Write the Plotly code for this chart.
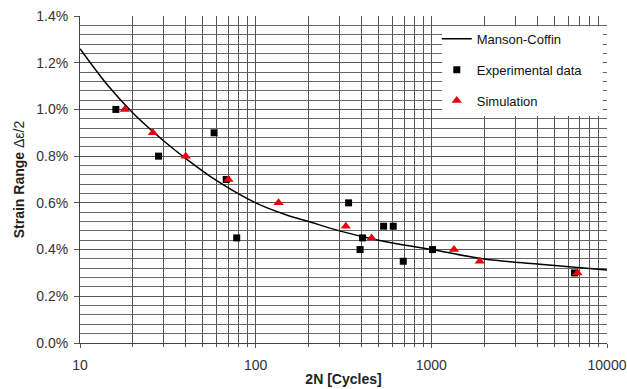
import plotly.graph_objects as go

# Manson-Coffin curve (cycles, strain %)
curve_n = [10, 14.5, 20, 30, 40, 60, 100, 150, 200, 300, 500, 1000, 2000, 4000, 10000]
curve_strain = [1.26, 1.10, 0.985, 0.865, 0.79, 0.695, 0.60, 0.548, 0.52, 0.48, 0.44, 0.40, 0.36, 0.338, 0.313]

# Experimental data
exp_n = [16, 28, 58, 68, 78, 338, 406, 393, 535, 607, 692, 1016, 6530]
exp_strain = [1.0, 0.8, 0.9, 0.7, 0.45, 0.6, 0.45, 0.4, 0.5, 0.5, 0.35, 0.4, 0.3]

# Simulation
sim_n = [18, 26, 40, 70, 135, 326, 457, 1346, 1885, 6790]
sim_strain = [1.0, 0.9, 0.8, 0.7, 0.6, 0.5, 0.45, 0.4, 0.35, 0.3]

x_ticks = [10, 100, 1000, 10000]
x_tick_labels = ["10", "100", "1000", "10000"]

minor_x = [m * d for d in (10, 100, 1000) for m in range(2, 10)]

FONT = "Liberation Sans, Arial, sans-serif"
GRID = "#555555"

fig = go.Figure()
fig.add_trace(go.Scatter(
    x=curve_n, y=curve_strain, mode="lines", name="Manson-Coffin",
    line=dict(color="black", width=1.5, shape="spline", smoothing=1.0),
    legendgroup="a"))
fig.add_trace(go.Scatter(
    x=exp_n, y=exp_strain, mode="markers", name="Experimental data",
    marker=dict(symbol="square", size=7, color="black"),
    legendgroup="b"))
fig.add_trace(go.Scatter(
    x=sim_n, y=sim_strain, mode="markers", name="Simulation",
    marker=dict(symbol="triangle-up", size=9, color="#e8000b"),
    legendgroup="c"))

# white legend panel
fig.add_shape(type="rect", xref="paper", yref="paper",
              x0=0.687, x1=0.992, y0=0.694, y1=0.969,
              fillcolor="white", line=dict(width=0), layer="above")

fig.update_layout(
    width=627, height=389,
    margin=dict(l=80, r=20, t=16, b=46, autoexpand=False),
    paper_bgcolor="white", plot_bgcolor="white",
    font=dict(family=FONT, size=13, color="#333333"),
    showlegend=True,
    legend=dict(
        x=0.677, y=0.976, xanchor="left", yanchor="top",
        bgcolor="rgba(0,0,0,0)", borderwidth=0,
        font=dict(family=FONT, size=13, color="#111111"),
        traceorder="grouped", tracegroupgap=11,
    ),
    xaxis=dict(
        type="log", range=[1, 4], automargin=False,
        tickvals=x_ticks, ticktext=x_tick_labels,
        showgrid=True, gridcolor=GRID, gridwidth=1,
        minor=dict(tickvals=minor_x, showgrid=True, gridcolor=GRID, gridwidth=1,
                   ticks="outside", ticklen=3, tickcolor=GRID),
        ticks="outside", ticklen=4, tickcolor=GRID,
        ticklabelstandoff=5,
        showline=True, linecolor="#444444", linewidth=1,
        tickfont=dict(size=14, color="#333333"),
        title=dict(text="<b>2N [Cycles]</b>", font=dict(size=14, color="#222222"), standoff=2),
        zeroline=False,
    ),
    yaxis=dict(
        range=[0, 1.4], dtick=0.2, tick0=0, automargin=False,
        tickformat=".1f", ticksuffix="%",
        showgrid=True, gridcolor=GRID, gridwidth=1,
        minor=dict(dtick=0.04, tick0=0, showgrid=True, gridcolor="#666666", gridwidth=1),
        ticks="outside", ticklen=5, tickcolor=GRID,
        ticklabelstandoff=3,
        showline=True, linecolor="#444444", linewidth=1,
        tickfont=dict(size=14, color="#333333"),
        title=dict(text="<b>Strain Range</b> Δε/2", font=dict(size=14, color="#222222"), standoff=8),
        zeroline=False,
    ),
)

fig.write_html(
    "out.html",
    config={"displayModeBar": False},
    post_script="document.body.style.margin='0';document.body.style.overflow='hidden';",
)
